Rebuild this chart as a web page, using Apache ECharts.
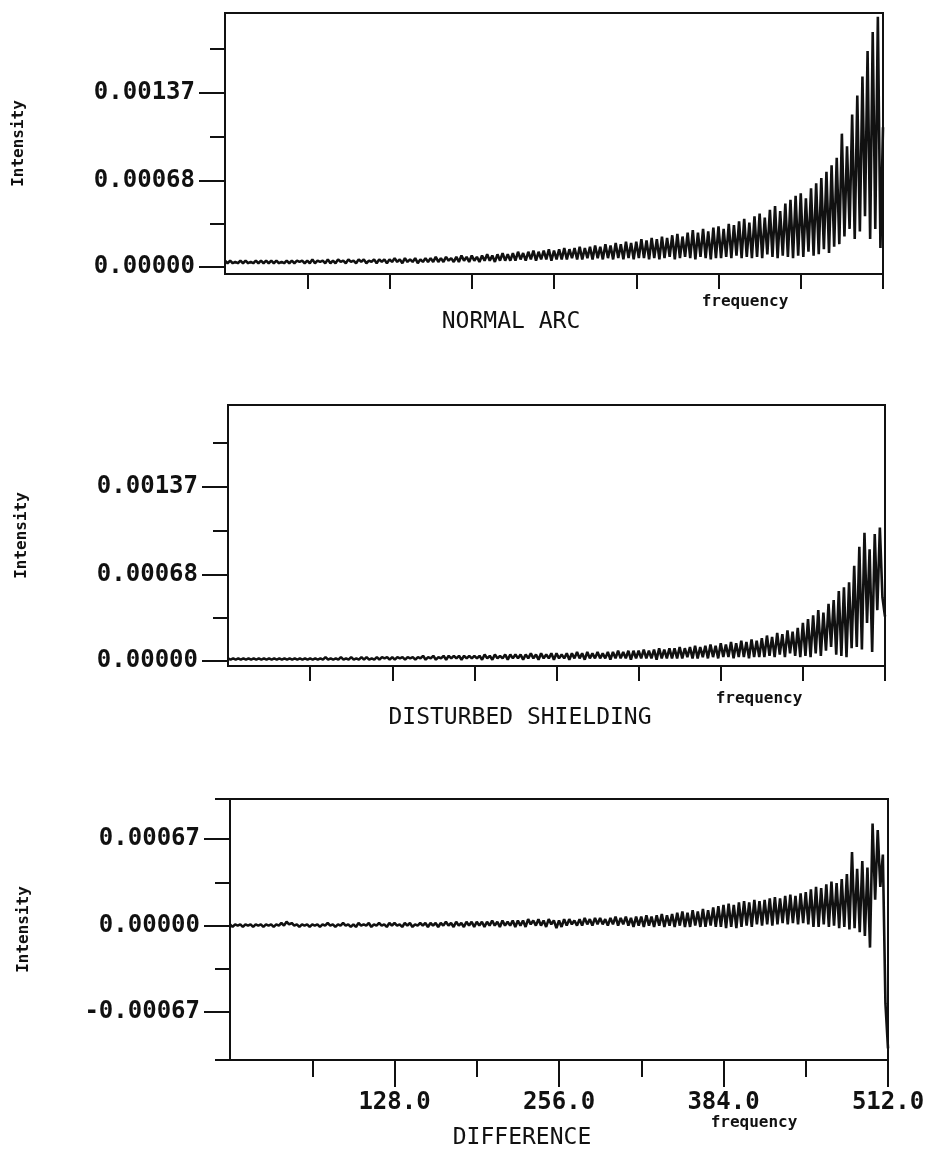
<!DOCTYPE html>
<html>
<head>
<meta charset="utf-8">
<script src="https://cdn.jsdelivr.net/npm/echarts@6/dist/echarts.min.js"></script>
<style>
  html, body { margin: 0; padding: 0; background: #fff; }
  #chart { width: 934px; height: 1152px; }
</style>
</head>
<body>
<div id="chart"></div>
<script>
// ---- data (intensity values in units of 1e-5, one every FREQ_STEP frequency units, 0..512) ----
const FREQ_STEP = 2;
const UNIT = 1e-5;

const normalArc = [
  5,3,5,3,4,3,5,3,5,3,4,3,5,3,5,3,
  5,3,5,3,5,3,4,3,5,3,5,3,5,4,5,3,
  5,3,6,3,5,4,5,3,6,3,5,3,6,4,5,3,
  6,4,5,3,6,4,6,3,5,4,6,3,6,4,6,3,
  6,4,7,4,6,3,7,4,6,4,7,3,6,4,7,4,
  7,4,8,4,7,4,8,5,7,4,8,4,9,5,8,4,
  9,5,8,4,9,5,10,5,9,4,10,5,11,5,10,5,
  11,5,12,6,11,5,12,6,13,5,12,6,13,6,14,5,
  13,6,14,6,15,6,14,7,15,6,16,6,15,7,16,6,
  17,7,16,6,18,7,17,6,19,7,18,6,20,7,19,6,
  20,7,22,7,21,6,23,7,22,6,24,7,23,8,25,6,
  26,7,24,8,27,7,29,6,27,8,30,7,28,6,31,7,
  32,7,30,8,34,7,33,9,36,7,38,8,35,7,40,8,
  42,7,39,10,45,8,48,7,44,9,50,8,53,7,56,9,
  58,8,54,12,62,9,66,10,70,14,75,11,80,16,86,18,
  105,24,95,30,120,22,135,28,150,40,170,22,185,30,197,15,
  110
];

const disturbedShielding = [
  2,1,2,1,2,1,2,1,2,1,2,1,2,1,2,1,
  2,1,2,1,2,1,2,1,2,1,2,1,2,1,2,1,
  2,1,2,1,2,1,3,1,2,1,2,1,3,1,2,1,
  3,1,2,1,3,1,3,1,2,1,3,1,3,2,3,1,
  3,1,3,2,3,1,3,2,3,1,3,2,4,1,3,2,
  4,1,3,2,4,1,4,2,4,2,4,1,4,2,4,2,
  4,2,4,1,5,2,4,1,5,2,4,2,5,1,5,2,
  5,2,5,1,5,2,6,2,5,1,6,2,5,2,6,1,
  6,2,5,2,6,1,6,2,7,2,6,1,7,2,6,2,
  7,2,6,2,7,1,7,2,8,2,7,2,8,1,8,2,
  8,2,9,2,8,2,9,1,10,2,9,2,10,2,10,2,
  11,2,10,3,11,2,12,2,11,3,12,2,13,3,12,2,
  14,3,13,3,15,2,14,3,16,3,15,2,17,3,16,3,
  18,3,20,4,19,3,22,5,21,3,24,6,23,4,26,3,
  30,4,33,3,36,6,40,4,38,8,45,11,48,5,55,4,
  58,3,62,10,75,11,90,9,101,30,88,7,100,40,105,50,
  35
];

const difference = [
  1,-1,1,0,1,-1,1,0,1,-1,1,0,1,-1,1,0,
  1,-1,1,0,2,0,3,1,2,0,1,-1,1,0,1,-1,
  1,0,1,-1,1,0,2,0,1,-1,1,0,2,0,1,-1,
  1,-1,2,0,1,0,2,-1,1,0,2,0,1,-1,2,0,
  2,0,1,-1,2,0,2,-1,1,0,2,0,2,-1,2,0,
  2,-1,2,0,3,0,2,-1,3,0,2,-1,3,0,3,-1,
  3,0,3,-1,3,0,4,0,3,-1,4,0,3,0,4,-1,
  4,0,4,-1,5,1,4,0,5,0,4,-1,5,1,4,-2,
  4,-1,5,0,5,1,4,0,5,0,6,1,5,0,6,1,
  6,1,5,0,6,1,7,0,6,1,7,0,6,-1,7,0,
  7,-1,8,0,7,-1,8,0,9,-1,8,0,9,-1,10,0,
  11,-1,10,-1,12,0,11,-1,13,-1,12,0,14,-1,15,-1,
  16,-2,17,-1,16,-2,18,-1,19,0,18,-1,20,1,19,0,
  20,1,21,0,22,1,21,2,23,1,24,2,23,1,25,2,
  26,1,28,-1,30,-1,29,1,32,-1,34,0,33,-2,36,-1,
  40,-3,57,-2,44,-5,50,-8,45,-17,79,20,74,30,55,-60,
  -95
];

// ---- ticks ----
const xTicksTop = [64, 128, 192, 256, 320, 384, 448, 512];
const xMajorBottom = [128, 256, 384, 512];
const xMajorBottomLabels = ['128.0', '256.0', '384.0', '512.0'];
const xMinorBottom = [64, 192, 320, 448];

const yMajorTop = [0, 0.00068, 0.00137];
const yMajorTopLabels = ['0.00000', '0.00068', '0.00137'];
const yMinorTop = [0.00034, 0.001025, 0.001715];

const yMajorDiff = [-0.00067, 0, 0.00067];
const yMajorDiffLabels = ['-0.00067', '0.00000', '0.00067'];
const yMinorDiff = [-0.00104, -0.000335, 0.000335, 0.00098];

const panelTitles = ['NORMAL ARC', 'DISTURBED SHIELDING', 'DIFFERENCE'];

// ---- helpers ----
const toPairs = arr => arr.map((v, i) => [i * FREQ_STEP, v * UNIT]);
const lookup = (vals, labels) => v => {
  const k = vals.findIndex(x => Math.abs(x - v) < 1e-9);
  return k >= 0 ? labels[k] : '';
};
const BLACK = '#111';
const tickFont = { fontFamily: 'DejaVu Sans Mono', fontWeight: 'bold', fontSize: 24, color: BLACK };

function xAxisTicks(grid, ticks, len, labels, labelVals) {
  return {
    type: 'value', gridIndex: grid, min: 0, max: 512, position: 'bottom',
    axisLine: { show: false, onZero: false },
    splitLine: { show: false },
    axisTick: { show: true, length: len, customValues: ticks, lineStyle: { color: BLACK, width: 2 } },
    axisLabel: labels
      ? Object.assign({ show: true, customValues: labelVals, margin: 31, formatter: lookup(labelVals, labels) }, tickFont)
      : { show: false }
  };
}
function yAxisTicks(grid, min, max, ticks, len, labels, labelVals, withName) {
  const ax = {
    type: 'value', gridIndex: grid, min: min, max: max, position: 'left',
    axisLine: { show: false, onZero: false },
    splitLine: { show: false },
    axisTick: { show: true, length: len, customValues: ticks, lineStyle: { color: BLACK, width: 2 } },
    axisLabel: labels
      ? Object.assign({ show: true, customValues: labelVals, margin: 30, formatter: lookup(labelVals, labels) }, tickFont)
      : { show: false }
  };
  if (withName) {
    ax.name = 'Intensity';
    ax.nameLocation = 'middle';
    ax.nameRotate = 90;
    ax.nameGap = 198;
    ax.nameTextStyle = { fontFamily: 'DejaVu Sans Mono', fontWeight: 'bold', fontSize: 16, color: BLACK };
  }
  return ax;
}

const grids = [
  { left: 225, top: 13, width: 658, height: 261 },
  { left: 228, top: 405, width: 657, height: 261 },
  { left: 230, top: 799, width: 658, height: 261 }
].map(g => Object.assign({ show: true, borderColor: BLACK, borderWidth: 2, backgroundColor: 'transparent' }, g));

const option = {
  animation: false,
  backgroundColor: '#fff',
  grid: grids,
  xAxis: [
    xAxisTicks(0, xTicksTop, 15),
    xAxisTicks(1, xTicksTop, 15),
    xAxisTicks(2, xMajorBottom, 27, xMajorBottomLabels, xMajorBottom),
    xAxisTicks(2, xMinorBottom, 17)
  ],
  yAxis: [
    yAxisTicks(0, -0.000055, 0.0020, yMajorTop, 26, yMajorTopLabels, yMajorTop, true),
    yAxisTicks(0, -0.000055, 0.0020, yMinorTop, 15),
    yAxisTicks(1, -0.00004, 0.002016, yMajorTop, 26, yMajorTopLabels, yMajorTop, true),
    yAxisTicks(1, -0.00004, 0.002016, yMinorTop, 15),
    yAxisTicks(2, -0.00104, 0.00098, yMajorDiff, 26, yMajorDiffLabels, yMajorDiff, true),
    yAxisTicks(2, -0.00104, 0.00098, yMinorDiff, 15)
  ],
  series: [
    { type: 'line', xAxisIndex: 0, yAxisIndex: 0, data: toPairs(normalArc) },
    { type: 'line', xAxisIndex: 1, yAxisIndex: 2, data: toPairs(disturbedShielding) },
    { type: 'line', xAxisIndex: 2, yAxisIndex: 4, data: toPairs(difference) }
  ].map(s => Object.assign({ showSymbol: false, symbol: 'none', lineStyle: { color: BLACK, width: 2.6 }, silent: true }, s)),
  graphic: [
    { type: 'text', x: 511, y: 322, style: { text: panelTitles[0], font: '23px "DejaVu Sans Mono"', fill: BLACK, textAlign: 'center', textVerticalAlign: 'middle' } },
    { type: 'text', x: 520, y: 718, style: { text: panelTitles[1], font: '23px "DejaVu Sans Mono"', fill: BLACK, textAlign: 'center', textVerticalAlign: 'middle' } },
    { type: 'text', x: 522, y: 1138, style: { text: panelTitles[2], font: '23px "DejaVu Sans Mono"', fill: BLACK, textAlign: 'center', textVerticalAlign: 'middle' } },
    { type: 'text', x: 745, y: 302, style: { text: 'frequency', font: 'bold 16px "DejaVu Sans Mono"', fill: BLACK, textAlign: 'center', textVerticalAlign: 'middle' } },
    { type: 'text', x: 759, y: 699, style: { text: 'frequency', font: 'bold 16px "DejaVu Sans Mono"', fill: BLACK, textAlign: 'center', textVerticalAlign: 'middle' } },
    { type: 'text', x: 754, y: 1123, style: { text: 'frequency', font: 'bold 16px "DejaVu Sans Mono"', fill: BLACK, textAlign: 'center', textVerticalAlign: 'middle' } }
  ]
};

const chart = echarts.init(document.getElementById('chart'), null, { renderer: 'canvas' });
chart.setOption(option);
</script>
</body>
</html>
